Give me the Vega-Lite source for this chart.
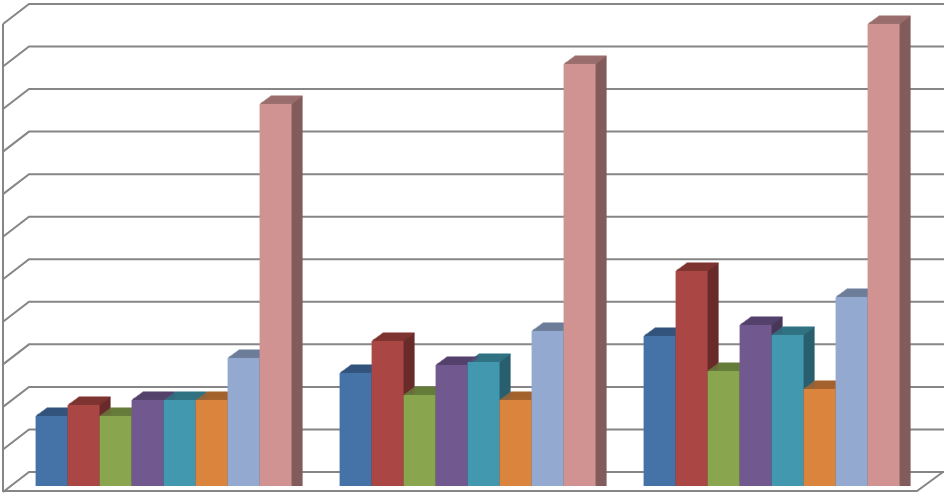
{"$schema":"https://vega.github.io/schema/vega-lite/v6.json","width":947,"height":494,"autosize":"none","padding":0,"background":"white","config":{"view":{"stroke":null}},
"datasets":{"bars":[
{"cat":"Category 1","series":"S1","value":1.645},{"cat":"Category 1","series":"S2","value":1.904},{"cat":"Category 1","series":"S3","value":1.645},{"cat":"Category 1","series":"S4","value":2.021},{"cat":"Category 1","series":"S5","value":2.021},{"cat":"Category 1","series":"S6","value":2.021},{"cat":"Category 1","series":"S7","value":3.008},{"cat":"Category 1","series":"S8","value":8.978},
{"cat":"Category 2","series":"S1","value":2.656},{"cat":"Category 2","series":"S2","value":3.408},{"cat":"Category 2","series":"S3","value":2.139},{"cat":"Category 2","series":"S4","value":2.844},{"cat":"Category 2","series":"S5","value":2.914},{"cat":"Category 2","series":"S6","value":2.021},{"cat":"Category 2","series":"S7","value":3.643},{"cat":"Category 2","series":"S8","value":9.918},
{"cat":"Category 3","series":"S1","value":3.525},{"cat":"Category 3","series":"S2","value":5.053},{"cat":"Category 3","series":"S3","value":2.703},{"cat":"Category 3","series":"S4","value":3.784},{"cat":"Category 3","series":"S5","value":3.549},{"cat":"Category 3","series":"S6","value":2.28},{"cat":"Category 3","series":"S7","value":4.442},{"cat":"Category 3","series":"S8","value":10.858}],
"frame":[
{"line":"wall","pos":3,"v":-0.141},{"line":"wall","pos":3,"v":10.859},
{"line":"floor","pos":3,"v":-0.118},{"line":"floor","pos":917,"v":-0.118},{"line":"floor","pos":943,"v":0.329},
{"line":"g0","pos":3,"v":-0.141},{"line":"g0","pos":29,"v":0.329},{"line":"g0","pos":944,"v":0.329},
{"line":"g1","pos":3,"v":0.859},{"line":"g1","pos":29,"v":1.329},{"line":"g1","pos":944,"v":1.329},
{"line":"g2","pos":3,"v":1.859},{"line":"g2","pos":29,"v":2.329},{"line":"g2","pos":944,"v":2.329},
{"line":"g3","pos":3,"v":2.859},{"line":"g3","pos":29,"v":3.329},{"line":"g3","pos":944,"v":3.329},
{"line":"g4","pos":3,"v":3.859},{"line":"g4","pos":29,"v":4.329},{"line":"g4","pos":944,"v":4.329},
{"line":"g5","pos":3,"v":4.859},{"line":"g5","pos":29,"v":5.329},{"line":"g5","pos":944,"v":5.329},
{"line":"g6","pos":3,"v":5.859},{"line":"g6","pos":29,"v":6.329},{"line":"g6","pos":944,"v":6.329},
{"line":"g7","pos":3,"v":6.859},{"line":"g7","pos":29,"v":7.329},{"line":"g7","pos":944,"v":7.329},
{"line":"g8","pos":3,"v":7.859},{"line":"g8","pos":29,"v":8.329},{"line":"g8","pos":944,"v":8.329},
{"line":"g9","pos":3,"v":8.859},{"line":"g9","pos":29,"v":9.329},{"line":"g9","pos":944,"v":9.329},
{"line":"g10","pos":3,"v":9.859},{"line":"g10","pos":29,"v":10.329},{"line":"g10","pos":944,"v":10.329},
{"line":"g11","pos":3,"v":10.859},{"line":"g11","pos":29,"v":11.329},{"line":"g11","pos":944,"v":11.329}]},
"resolve":{"scale":{"x":"independent","color":"independent"}},
"layer":[
{"data":{"name":"frame"},"mark":{"type":"line","color":"#868686","strokeWidth":2,"clip":false},
"encoding":{"x":{"field":"pos","type":"quantitative","axis":null,"scale":{"domain":[0,947],"nice":false,"zero":false}},"y":{"field":"v","type":"quantitative","axis":null,"scale":{"domain":[-0.188,11.422],"nice":false,"zero":false}},"detail":{"field":"line"}}},
{"data":{"name":"bars"},
"resolve":{"scale":{"x":"independent"}},
"encoding":{"xOffset":{"field":"series","type":"nominal","scale":{"paddingInner":0,"paddingOuter":0}},"y":{"field":"value","type":"quantitative","axis":null,"stack":null,"scale":{"domain":[-0.188,11.422],"nice":false,"zero":false}},
"color":{"field":"series","type":"nominal","legend":null,"scale":{"range":["#2b4768","#692b2a","#556630","#463759","#285e6d","#885226","#5b6980","#825b5b"]}}},
"layer":[
{"mark":{"type":"bar","yOffset":-1},"encoding":{"x":{"field":"cat","type":"nominal","axis":null,"scale":{"range":[12.975,924.975],"paddingInner":0.15789,"paddingOuter":0.07895}}}},
{"mark":{"type":"bar","yOffset":-2},"encoding":{"x":{"field":"cat","type":"nominal","axis":null,"scale":{"range":[14.35,926.35],"paddingInner":0.15789,"paddingOuter":0.07895}}}},
{"mark":{"type":"bar","yOffset":-3},"encoding":{"x":{"field":"cat","type":"nominal","axis":null,"scale":{"range":[15.725,927.725],"paddingInner":0.15789,"paddingOuter":0.07895}}}},
{"mark":{"type":"bar","yOffset":-4},"encoding":{"x":{"field":"cat","type":"nominal","axis":null,"scale":{"range":[17.1,929.1],"paddingInner":0.15789,"paddingOuter":0.07895}}}},
{"mark":{"type":"bar","yOffset":-5},"encoding":{"x":{"field":"cat","type":"nominal","axis":null,"scale":{"range":[18.475,930.475],"paddingInner":0.15789,"paddingOuter":0.07895}}}},
{"mark":{"type":"bar","yOffset":-6},"encoding":{"x":{"field":"cat","type":"nominal","axis":null,"scale":{"range":[19.85,931.85],"paddingInner":0.15789,"paddingOuter":0.07895}}}},
{"mark":{"type":"bar","yOffset":-7},"encoding":{"x":{"field":"cat","type":"nominal","axis":null,"scale":{"range":[21.225,933.225],"paddingInner":0.15789,"paddingOuter":0.07895}}}},
{"mark":{"type":"bar","yOffset":-8},"encoding":{"x":{"field":"cat","type":"nominal","axis":null,"scale":{"range":[22.6,934.6],"paddingInner":0.15789,"paddingOuter":0.07895}}}}]},
{"data":{"name":"bars"},
"resolve":{"scale":{"x":"independent"}},
"encoding":{"xOffset":{"field":"series","type":"nominal","scale":{"paddingInner":0,"paddingOuter":0}},"y":{"field":"value","type":"quantitative","axis":null,"scale":{"domain":[-0.188,11.422],"nice":false,"zero":false}},"size":{"value":32},
"color":{"field":"series","type":"nominal","legend":null,"scale":{"range":["#365982","#853734","#6b813d","#584570","#337789","#ab6730","#7384a1","#a37372"]}}},
"layer":[
{"mark":{"type":"tick","thickness":1.4,"yOffset":-0.5},"encoding":{"x":{"field":"cat","type":"nominal","axis":null,"scale":{"range":[12.3,924.3],"paddingInner":0.15789,"paddingOuter":0.07895}}}},
{"mark":{"type":"tick","thickness":1.4,"yOffset":-1},"encoding":{"x":{"field":"cat","type":"nominal","axis":null,"scale":{"range":[12.975,924.975],"paddingInner":0.15789,"paddingOuter":0.07895}}}},
{"mark":{"type":"tick","thickness":1.4,"yOffset":-2},"encoding":{"x":{"field":"cat","type":"nominal","axis":null,"scale":{"range":[14.35,926.35],"paddingInner":0.15789,"paddingOuter":0.07895}}}},
{"mark":{"type":"tick","thickness":1.4,"yOffset":-3},"encoding":{"x":{"field":"cat","type":"nominal","axis":null,"scale":{"range":[15.725,927.725],"paddingInner":0.15789,"paddingOuter":0.07895}}}},
{"mark":{"type":"tick","thickness":1.4,"yOffset":-4},"encoding":{"x":{"field":"cat","type":"nominal","axis":null,"scale":{"range":[17.1,929.1],"paddingInner":0.15789,"paddingOuter":0.07895}}}},
{"mark":{"type":"tick","thickness":1.4,"yOffset":-5},"encoding":{"x":{"field":"cat","type":"nominal","axis":null,"scale":{"range":[18.475,930.475],"paddingInner":0.15789,"paddingOuter":0.07895}}}},
{"mark":{"type":"tick","thickness":1.4,"yOffset":-6},"encoding":{"x":{"field":"cat","type":"nominal","axis":null,"scale":{"range":[19.85,931.85],"paddingInner":0.15789,"paddingOuter":0.07895}}}},
{"mark":{"type":"tick","thickness":1.4,"yOffset":-7},"encoding":{"x":{"field":"cat","type":"nominal","axis":null,"scale":{"range":[21.225,933.225],"paddingInner":0.15789,"paddingOuter":0.07895}}}},
{"mark":{"type":"tick","thickness":1.4,"yOffset":-8},"encoding":{"x":{"field":"cat","type":"nominal","axis":null,"scale":{"range":[22.6,934.6],"paddingInner":0.15789,"paddingOuter":0.07895}}}}]},
{"data":{"name":"bars"},"mark":{"type":"bar"},
"encoding":{"x":{"field":"cat","type":"nominal","axis":null,"scale":{"range":[11.6,923.6],"paddingInner":0.15789,"paddingOuter":0.07895}},"xOffset":{"field":"series","type":"nominal","scale":{"paddingInner":0,"paddingOuter":0}},"y":{"field":"value","type":"quantitative","axis":null,"stack":null,"scale":{"domain":[-0.188,11.422],"nice":false,"zero":false}},
"color":{"field":"series","type":"nominal","legend":null,"scale":{"range":["#4572A7","#AA4643","#89A54E","#71588F","#4198AF","#DB843D","#93A9CF","#D19392"]}}}}
]}
